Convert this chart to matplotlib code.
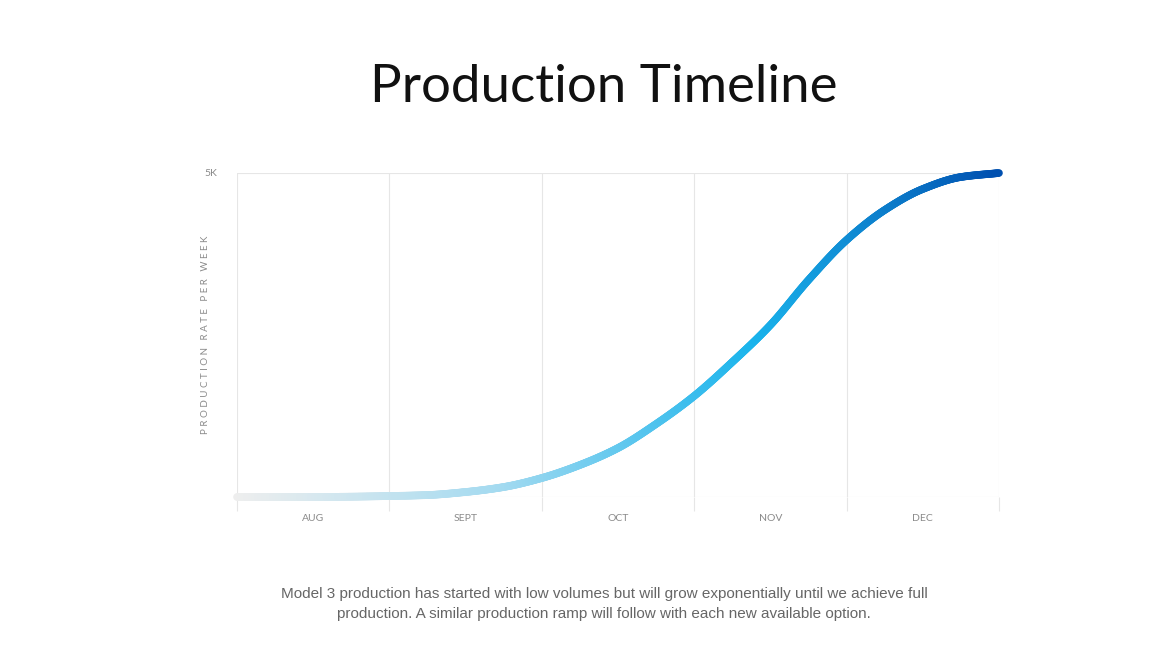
import numpy as np
import matplotlib
matplotlib.use("Agg")
import matplotlib.pyplot as plt
from matplotlib.collections import LineCollection
from matplotlib.colors import LinearSegmentedColormap

months = ["AUG", "SEPT", "OCT", "NOV", "DEC"]
t_months = [0, 0.25, 0.5, 0.75, 1.0, 1.25, 1.5, 1.75, 2.0, 2.25, 2.5, 2.75, 3.0, 3.25, 3.5, 3.75, 4.0, 4.25, 4.5, 4.75, 5.0]
rate = [0, 0, 0, 5, 15, 30, 77, 154, 293, 494, 756, 1127, 1559, 2083, 2654, 3349, 3966, 4429, 4753, 4938, 5000]


def pchip(x, y, xn):
    x = np.asarray(x, float); y = np.asarray(y, float)
    h = np.diff(x); d = np.diff(y) / h
    m = np.zeros_like(y)
    for k in range(1, len(y) - 1):
        if d[k - 1] * d[k] > 0:
            w1 = 2 * h[k] + h[k - 1]; w2 = h[k] + 2 * h[k - 1]
            m[k] = (w1 + w2) / (w1 / d[k - 1] + w2 / d[k])
    m[0] = d[0]; m[-1] = d[-1]
    idx = np.clip(np.searchsorted(x, xn) - 1, 0, len(h) - 1)
    t = (xn - x[idx]) / h[idx]
    h00 = 2*t**3 - 3*t**2 + 1; h10 = t**3 - 2*t**2 + t
    h01 = -2*t**3 + 3*t**2; h11 = t**3 - t**2
    return h00*y[idx] + h10*h[idx]*m[idx] + h01*y[idx+1] + h11*h[idx]*m[idx+1]


fig = plt.figure(figsize=(11.66, 6.58), dpi=100)
ax = fig.add_axes([237/1166, 1-497/658, (999-237)/1166, (497-173)/658])
ax.set_xlim(0, 5)
ax.set_ylim(0, 5000)

gc = "#e6e6e6"
for x in range(6):
    ax.axvline(x, color=gc, lw=0.8, zorder=0)
ax.axhline(5000, color=gc, lw=0.8, zorder=0)
ax.axhline(0, color=gc, lw=0.8, zorder=0)
for s in ax.spines.values():
    s.set_visible(False)
ax.set_xticks(range(6))
ax.set_xticklabels([])
ax.tick_params(axis="x", length=10, color=gc, width=0.8)
ax.set_xticks([i + 0.5 for i in range(5)], minor=True)
ax.set_xticklabels(months, minor=True, fontsize=7.5, color="#8a8a8a", family="Lato")
ax.tick_params(axis="x", which="minor", length=0, pad=12)
ax.set_yticks([5000])
ax.set_yticklabels(["5K"], fontsize=7.5, color="#8a8a8a", family="Lato")
ax.tick_params(axis="y", length=0, pad=14)
ax.set_ylabel("P R O D U C T I O N   R A T E   P E R   W E E K", fontsize=7, color="#8a8a8a", family="Lato", labelpad=14)
ax.yaxis.set_label_coords(-0.035, 0.5)

xs = np.linspace(0, 5, 800)
ys = pchip(t_months, rate, xs)
pts = np.array([xs, ys]).T.reshape(-1, 1, 2)
segs = np.concatenate([pts[:-1], pts[1:]], axis=1)
cmap = LinearSegmentedColormap.from_list("g", [(0, "#eeeeee"), (0.35, "#a3daf0"), (0.68, "#1ab4ec"), (1.0, "#0050b0")])
lc = LineCollection(segs, cmap=cmap, linewidths=5.5, capstyle="round", clip_on=False)
lc.set_array(xs[:-1] / 5)
ax.add_collection(lc)

fig.text(0.518, 1-87/658, "Production Timeline", ha="center", va="center", fontsize=38, family="Lato", color="#111111")
fig.text(0.518, 1-604/658, "Model 3 production has started with low volumes but will grow exponentially until we achieve full\nproduction. A similar production ramp will follow with each new available option.",
         ha="center", va="center", fontsize=11, color="#666666", family="Liberation Sans", linespacing=1.5)
fig.savefig("out.png", dpi=100, facecolor="white")
